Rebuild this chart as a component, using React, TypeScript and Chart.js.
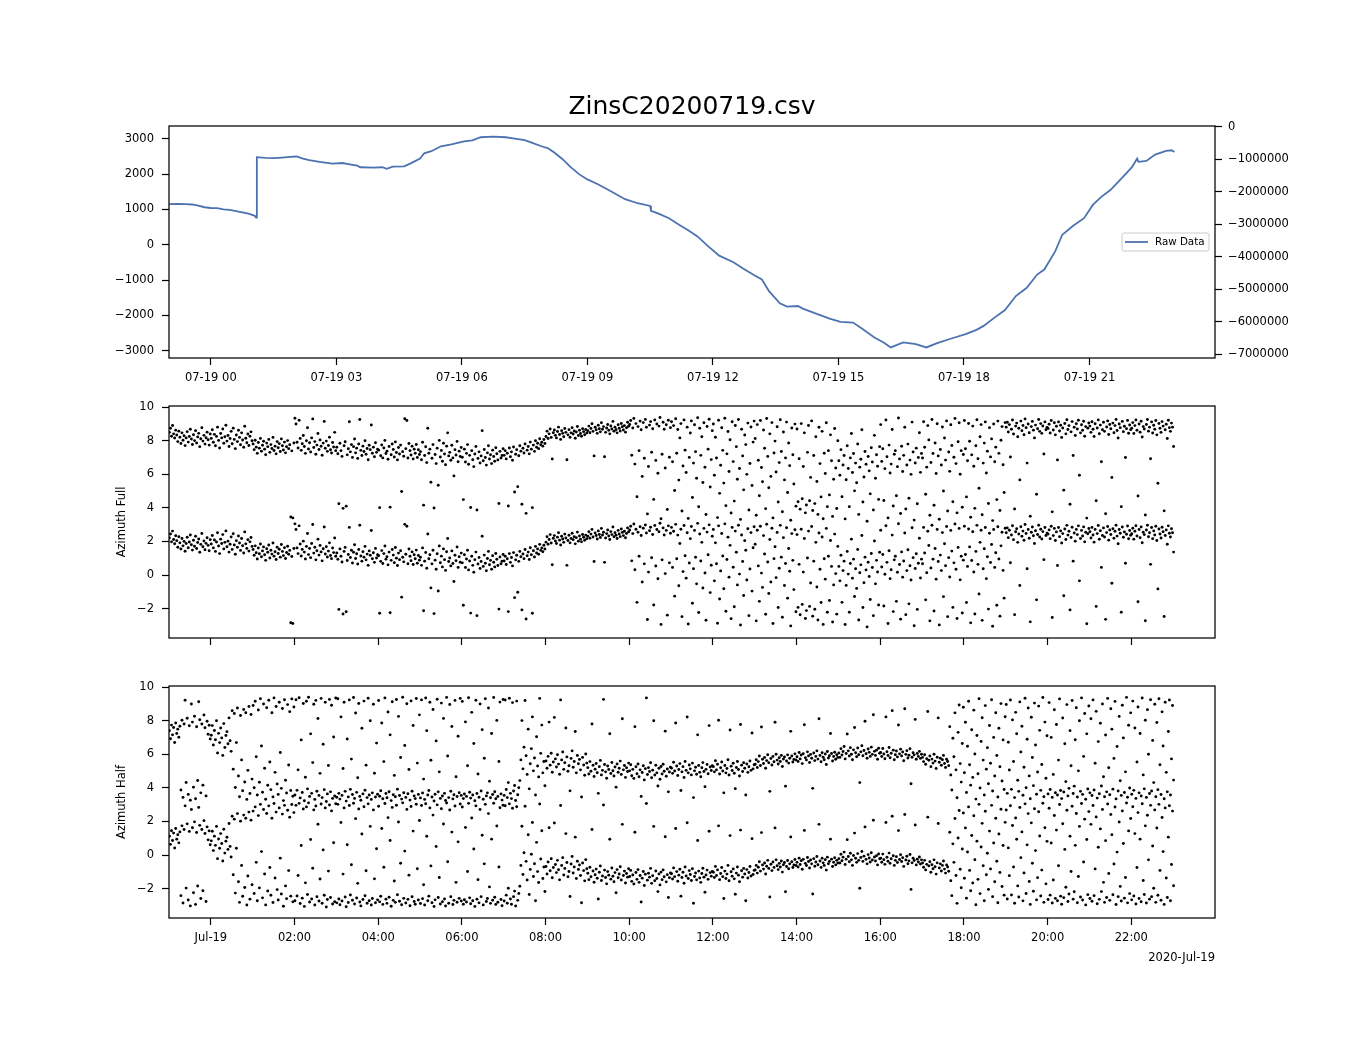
import React, { useEffect, useRef } from 'react';
import { Chart, registerables } from 'chart.js';

Chart.register(...registerables);

const FONT = "'DejaVu Sans', 'Liberation Sans', sans-serif";
const TITLE = 'ZinsC20200719.csv';
const OFFSET_LABEL = '2020-Jul-19';
const LEGEND_LABEL = 'Raw Data';
const LINE_COLOR = '#4c72b0';

// hours relative to 2020-07-19 00:00
const X_MIN = -1.0;
const X_MAX = 24.0;
const SAMPLE_START = -0.99;
const SAMPLE_END = 23.01;

const rawHours = [
  -0.99, -0.8, -0.6, -0.45, -0.3, -0.15, 0.0, 0.15, 0.3, 0.45, 0.6, 0.75, 0.9, 1.05, 1.08, 1.1,
  1.3, 1.5, 1.7, 1.9, 2.05, 2.2, 2.35, 2.6, 2.9, 3.15, 3.35, 3.5, 3.57, 3.9, 4.1, 4.2, 4.35,
  4.62, 4.8, 5.0, 5.1, 5.27, 5.5, 5.75, 6.05, 6.25, 6.45, 6.75, 7.05, 7.3, 7.5, 7.7, 7.9, 8.05,
  8.2, 8.4, 8.6, 8.8, 9.0, 9.25, 9.55, 9.9, 10.2, 10.5, 10.52, 10.7, 10.95, 11.2, 11.4, 11.63,
  11.89, 12.15, 12.49, 12.74, 13.0, 13.17, 13.34, 13.6, 13.77, 14.03, 14.15, 14.45, 14.79,
  15.05, 15.35, 15.56, 15.86, 16.08, 16.25, 16.55, 16.85, 17.1, 17.36, 17.7, 18.04, 18.3,
  18.47, 18.73, 18.98, 19.24, 19.5, 19.75, 19.92, 20.18, 20.35, 20.61, 20.87, 21.08, 21.29,
  21.5, 21.59, 21.8, 22.02, 22.14, 22.17, 22.36, 22.57, 22.83, 22.96, 23.03,
];
const rawValues = [
  1150, 1155, 1148, 1140, 1105, 1062, 1040, 1035, 1000, 985, 950, 915, 880, 820, 770, 2480,
  2460, 2455, 2470, 2490, 2500, 2440, 2395, 2345, 2300, 2315, 2270, 2240, 2195, 2185, 2195, 2150, 2215,
  2220, 2320, 2440, 2590, 2650, 2790, 2840, 2930, 2955, 3045, 3065, 3045, 3000, 2965, 2880, 2790, 2740,
  2620, 2430, 2200, 2000, 1850, 1715, 1520, 1290, 1175, 1100, 960, 880, 750, 560, 420, 235,
  -47, -310, -498, -685, -873, -986, -1315, -1662, -1756, -1737, -1812, -1944, -2094,
  -2188, -2207, -2376, -2629, -2770, -2911, -2770, -2817, -2911, -2789, -2657, -2535, -2413,
  -2300, -2066, -1850, -1455, -1221, -845, -704, -188, 282, 535, 751, 1127, 1362,
  1549, 1662, 1925, 2207, 2441, 2347, 2376, 2554, 2657, 2676, 2629,
];

// azimuth values in [-pi, pi]; each is drawn at v and v + 2*pi
const azimuthFull = [
  2.21, 2.45, 1.98, 2.62, 2.12, 1.87, 2.34, 2.05, 1.66, 2.28, 1.92, 1.55, 2.18, 1.74, 2.01, 1.42, 1.88, 2.25, 1.63, 1.97, 2.39, 1.81, 1.49, 2.07, 1.72, 2.31, 1.58, 1.94, 2.15, 1.36, 1.83, 2.48, 1.69, 2.03, 1.51, 1.89, 2.22, 1.77, 1.45, 2.11,
  1.85, 2.36, 1.62, 2.09, 1.41, 1.97, 2.52, 1.73, 1.28, 2.14, 1.88, 2.41, 1.56, 1.95, 2.63, 1.69, 2.02, 1.37, 1.84, 2.27, 1.53, 2.46, 1.79, 1.24, 2.05, 1.66, 2.33, 1.91, 1.47, 2.18, 1.75, 1.32, 2.57, 1.86, 1.59, 2.11, 1.43, 1.98, 2.24, 1.71,
  1.52, 1.18, 1.74, 1.33, 0.96, 1.61, 1.27, 1.85, 1.09, 1.44, 1.68, 1.21, 0.88, 1.57, 1.36, 1.79, 1.02, 1.48, 1.25, 1.91, 1.13, 1.39, 0.93, 1.66, 1.29, 1.54, 1.07, 1.82, 1.41, 1.16, 1.63, 0.99, 1.35, 1.72, 1.24, 1.47, -2.83, 1.11, -2.88, 1.58,
  3.05, 2.71, 1.62, 1.28, 2.93, 1.85, 1.14, 1.53, 2.02, 1.37, 0.96, 1.71, 2.48, 1.22, 1.59, 1.04, 1.88, 3.01, 1.31, 1.66, 0.91, 1.45, 2.14, 1.19, 1.76, 1.38, 0.85, 1.57, 2.86, 1.26, 1.69, 1.08, 1.43, 1.92, 1.17, 0.98, 1.61, 1.34, 2.21, 1.12,
  1.32, 0.94, -2.04, 1.56, 1.12, 0.78, -2.31, 1.41, 1.65, -2.18, 0.87, 1.23, 2.84, 1.05, 1.48, 0.72, 1.36, 1.81, 0.99, 1.27, 0.66, 1.52, 2.97, 1.14, 0.83, 1.39, 1.07, 1.71, 0.91, 1.25, 0.58, 1.44, 1.18, 2.65, 0.97, 1.33, 0.76, 1.59, 1.02, 1.21,
  1.15, -2.27, 0.82, 1.46, 0.69, 1.28, 1.73, 0.95, 1.09, 0.61, 1.37, -2.24, 0.88, 1.52, 1.19, 0.74, 1.64, 1.01, 0.57, 1.31, 0.92, 1.45, -1.31, 1.06, 0.79, 3.02, 1.24, 2.91, 0.68, 1.55, 1.12, 0.86, 1.38, 0.63, 1.21, 0.97, 1.49, 0.71, 1.17, 0.89,
  1.06, 0.58, 1.62, -2.12, 0.83, 1.35, 0.41, 2.45, 0.97, 1.21, -0.76, 0.67, 1.48, -2.29, 0.89, 0.35, 1.27, -0.94, 1.73, 0.74, 1.13, 0.49, 1.56, 0.92, 0.28, 1.39, 2.18, 0.81, 1.02, 0.55, 1.44, 0.69, -0.38, 1.18, 0.86, 1.67, 0.46, 1.09, 0.77, 1.31,
  0.73, -1.79, 1.21, 0.45, 0.96, 1.48, 0.31, 0.84, -2.26, 1.12, 0.58, 0.17, 0.92, 1.37, -2.41, 0.66, 1.05, 0.39, 0.81, 2.31, 0.52, 1.19, 0.71, 0.26, 0.99, 1.41, 0.62, 0.88, 0.35, 1.15, 0.77, 0.49, 1.29, 0.94, 0.57, -2.02, 1.08, 0.68, 0.83, 1.23,
  0.84, 1.12, 0.63, 0.97, -2.17, 1.28, 0.76, 1.05, 0.55, 1.34, -1.34, 0.91, 1.18, -1.02, 0.82, 1.41, 1.09, -2.07, 1.26, 0.98, 1.52, -2.61, 1.15, 1.37, 0.93, 1.63, 1.21, -2.27, 1.45, 1.08, 1.71, 1.32, 1.56, 1.24, 1.83, 1.47, 1.62, 1.39, 1.78, 1.55,
  1.96, 2.28, 1.84, 2.12, 2.41, 1.91, 0.62, 2.19, 2.35, 2.03, 1.88, 2.26, 2.52, 2.08, 1.79, 2.31, 2.15, 1.95, 2.44, 2.21, 0.58, 2.06, 2.37, 1.92, 2.18, 2.49, 2.11, 2.29, 1.86, 2.23, 2.56, 2.02, 2.33, 2.14, 1.98, 2.42, 2.25, 2.07, 2.38, 2.17,
  2.31, 2.58, 2.19, 2.44, 2.72, 2.27, 0.81, 2.51, 2.36, 2.15, 2.63, 2.42, 2.24, 2.78, 2.39, 2.55, 0.76, 2.21, 2.47, 2.68, 2.33, 2.12, 2.59, 2.41, 2.86, 2.28, 2.52, 2.37, 2.18, 2.66, 2.45, 2.29, 2.74, 2.54, 2.35, 2.61, 2.22, 2.48, 2.81, 2.57,
  2.68, 2.91, 0.85, 2.47, 3.04, 0.32, 2.73, -1.62, 2.55, 1.12, 2.88, 2.36, -0.41, 2.79, 0.67, 2.98, 2.51, -2.64, 0.18, 2.64, 2.85, 1.03, 2.42, -1.78, 2.95, 0.54, 2.71, -0.22, 2.58, 3.09, -2.93, 0.91, 2.81, 2.39, 0.09, 2.66, -2.38, 2.93, 0.73, 2.49,
  2.84, 0.46, 2.61, -1.25, 3.02, 0.97, 2.38, -0.63, 1.88, 2.73, -2.47, 0.21, 2.95, 1.15, -0.18, 2.52, -2.91, 0.72, 2.17, 2.89, -1.67, 0.38, 2.66, 1.06, -0.52, 3.08, -2.22, 2.45, 0.84, 1.95, -0.77, 2.78, 0.13, -2.68, 2.56, 1.21, 2.99, -1.04, 0.59, 2.31,
  2.71, -0.34, 1.92, 0.68, -2.86, 2.93, -1.42, 0.25, 2.48, 1.14, -0.81, 3.05, -2.15, 0.93, 2.26, -0.12, 1.77, -2.59, 2.84, 0.47, -1.88, 2.62, 1.36, -0.58, 2.97, 0.06, -2.97, 2.39, 0.81, -1.21, 2.05, 1.48, -0.29, 2.76, -2.41, 0.36, 2.53, -0.95, 1.63, 2.88,
  1.84, -2.72, 2.67, 0.55, -1.56, 2.91, 0.12, -0.73, 2.35, 1.26, -2.33, 3.03, 0.78, -1.09, 2.12, -0.41, 2.79, -2.88, 0.98, 1.69, -0.15, 2.54, -1.93, 0.41, 2.96, 1.07, -2.51, 2.23, -0.62, 0.69, 2.82, -1.37, 1.58, 0.23, -3.02, 2.47, 0.88, -0.86, 2.7, -2.18,
  2.41, -1.92, 0.64, -2.36, 2.73, -1.74, 0.18, 2.18, -2.58, -2.11, 1.02, 2.62, -1.86, -0.47, 2.89, -2.44, 0.83, -2.03, 1.95, -0.71, -2.67, 2.51, 0.35, -1.63, 2.27, -2.93, 0.97, -0.24, 2.78, -2.21, 1.12, -1.51, 2.06, 0.52, -2.79, -0.58, 2.44, 0.09, -2.32, 1.71,
  0.52, -0.34, 1.18, -1.62, 0.27, 0.83, -2.94, -0.61, 1.41, 0.06, -2.21, 0.69, 2.14, -0.18, 0.95, -1.27, 0.38, -0.79, 1.52, -2.67, 0.14, 0.61, 2.36, -1.93, -0.45, 1.07, 0.31, -3.08, 0.77, -0.08, -1.45, 1.29, 0.45, -2.41, 2.03, -0.52, 0.88, 0.19, -1.78, 1.36,
  2.67, 0.48, 1.23, -1.84, 0.05, 2.94, 0.76, -2.88, 1.45, -0.21, 0.32, 2.38, -2.17, 0.91, 1.12, -1.56, 0.17, 3.06, 0.63, -2.62, 1.38, -0.12, 0.84, 2.51, -2.35, 0.27, 1.51, -1.71, 0.56, -0.29, 2.82, 1.04, -3.01, 0.39, 1.27, -2.04, 0.71, 2.19, -0.17, 0.95,
  0.68, 2.84, 1.32, -1.47, 0.14, 2.61, 1.76, -2.72, 0.42, 2.97, 0.95, -2.13, 1.58, -0.24, 2.72, 0.81, -2.96, 1.19, 0.27, 2.53, -1.28, 1.87, 0.56, 2.89, -2.47, 1.04, -0.11, 2.66, 1.43, -1.92, 0.73, 3.04, 0.35, -2.58, 1.65, 2.78, -0.28, 1.12, -2.25, 0.89,
  2.91, 1.23, -1.63, 0.52, 2.74, 1.68, -2.84, 0.87, 2.58, 0.19, -2.31, 1.41, 2.96, 0.64, -1.12, 1.95, 2.67, -2.69, 0.38, 1.57, 2.83, -0.21, 1.09, -2.02, 2.49, 0.75, 1.82, -3.04, 2.71, 0.46, 1.33, -1.79, 2.88, 0.96, -2.44, 1.74, 2.55, 0.28, -1.37, 2.79,
  2.52, 2.81, 2.23, 2.67, 0.74, 2.39, 2.94, 2.11, -2.35, 2.58, 2.76, 1.95, 2.45, -0.62, 2.88, 2.31, 2.62, 2.07, 3.01, 2.48, 0.38, 2.71, 2.19, -2.78, 2.55, 2.86, 2.34, 1.88, 2.64, -1.47, 2.42, 2.97, 2.27, 2.73, 2.15, 2.59, 0.92, 2.83, 2.36, 2.5,
  2.44, 2.69, 2.17, 2.91, -2.52, 2.35, 2.78, 2.06, 2.57, 0.57, 2.83, 2.29, 2.63, 1.91, 2.47, -1.23, 2.74, 2.12, 2.96, 2.38, 2.61, -2.07, 2.24, 2.85, 0.83, 2.51, 2.02, 2.72, 2.41, 2.93, -0.34, 2.18, 2.66, 2.33, 2.87, 1.98, 2.55, -2.89, 2.46, 2.77,
  2.58, 2.21, 2.84, 2.39, 1.96, 2.72, -1.86, 2.47, 2.95, 2.13, 2.64, 0.46, 2.36, 2.81, 2.27, -2.63, 2.53, 2.89, 2.08, 2.68, 2.42, -0.48, 2.76, 2.19, 2.61, 2.97, 2.32, 1.87, 2.71, 2.49, -2.21, 2.86, 2.25, 2.57, 0.71, 2.43, 2.92, 2.16, 2.65, 2.37,
  2.46, 2.79, 2.14, 2.61, 2.94, 2.33, -1.58, 2.71, 2.22, 2.87, 1.93, 2.55, 2.41, -2.71, 2.68, 2.97, 2.28, 2.52, 0.64, 2.83, 2.17, 2.63, 2.39, 2.91, 2.06, -0.82, 2.74, 2.45, 2.21, 2.85, 2.58, -2.46, 2.36, 2.69, 1.84, 2.93, 2.49, 2.27, 2.76, 2.52,
  1.37,
];

const azimuthHalf = [
  1.12, 0.64, 1.45, 0.87, 1.31, 0.42, 1.58, 0.95, 1.21, 0.73, 1.38, -2.41, 1.74, -2.85, 1.52, 2.93, -1.96, 1.86, -2.67, 1.41, -3.02, 2.71, 1.63, -2.24, 1.98, -2.93, 1.35, -1.84, 2.84, 1.77, -2.58, 1.52, -2.12, 2.05, 1.29, -2.76, 1.68, 0.91, 1.44, 0.62,
  0.85, 1.42, 0.27, 1.13, 0.58, 1.71, -0.21, 0.96, 0.41, 1.28, 0.69, -0.35, 1.54, 0.12, 0.83, 1.06, 0.34, 1.88, 0.52, -0.11, 2.31, -1.17, 2.14, -2.26, 0.41, 2.47, -1.58, -2.81, 2.02, -0.62, -2.45, 2.38, -1.93, 2.19, -2.97, -1.24, 2.56, -2.62, 2.08, -1.76,
  2.62, -2.28, 2.87, -0.43, -2.71, 2.35, -1.95, 3.02, 0.21, -2.54, 2.71, -1.12, -2.96, 2.48, -2.13, 2.93, -0.74, -2.39, 2.19, -2.82, 3.07, -1.36, 2.56, -2.05, -2.67, 2.81, -0.18, -2.31, 2.44, -3.04, 2.96, -1.83, -2.59, 2.67, -0.92, 2.25, -2.44, 3.01, -2.78, 2.53,
  -2.71, 2.96, -2.43, -1.21, 3.08, -2.88, 0.57, -2.56, 2.74, -3.05, -1.65, 2.87, -2.34, 3.11, -2.79, 0.93, -2.61, -0.78, 2.69, -2.97, 2.92, -2.48, 1.84, -2.73, -1.42, 3.04, -2.86, 0.31, -2.39, 2.81, -3.09, -2.64, -0.95, 2.98, -2.52, 2.63, -2.91, 0.74, -2.77, 3.06,
  -2.84, 3.02, -2.61, -2.95, 1.94, -2.73, -1.13, 2.81, -2.49, -3.07, 0.62, -2.82, 2.95, -2.37, -0.57, -2.68, 3.09, -2.91, 2.17, -2.55, -1.68, 2.74, -2.79, -3.02, 1.26, -2.64, 2.88, -2.42, -0.93, -2.86, 3.05, -2.71, 1.71, -2.97, -2.58, 2.69, -1.41, -2.83, 0.38, -2.66,
  2.91, -2.78, -2.45, 1.58, -2.93, -0.72, 3.07, -2.62, -2.87, 2.23, -2.51, 0.87, -3.04, 2.84, -2.69, -1.54, -2.81, 2.97, -2.36, 1.97, -2.74, -0.48, -2.95, 3.11, -2.57, 0.24, -2.85, 2.72, -2.63, -1.19, -3.01, 2.89, -2.48, 1.43, -2.76, -2.92, 3.03, -0.81, -2.67, 2.06,
  -2.88, 2.95, -2.59, -1.76, -2.97, 3.06, 1.12, -2.71, -2.44, 2.81, -0.64, -2.83, 2.38, -3.06, -2.66, 0.51, 2.99, -2.52, -1.33, -2.91, 2.76, -2.77, 1.85, -2.61, -3.03, 3.1, -0.39, -2.86, 2.68, -2.48, 1.37, -2.94, -2.69, 2.92, -1.62, -2.8, 0.79, -2.57, 3.04, -2.73,
  2.86, -2.92, -2.65, 1.64, -2.79, -0.97, 3.08, -2.54, -2.89, 2.21, -2.71, 0.36, -3.05, 2.93, -2.62, -1.46, -2.84, 2.71, -2.47, 1.18, -2.96, -0.52, 3.02, -2.76, -2.58, 2.47, -1.89, -2.87, 0.95, -2.68, 3.09, -2.51, -2.93, 1.73, -2.8, -0.71, 2.82, -2.64, -3.01, 2.97,
  -2.73, 2.94, -2.38, -2.86, -1.97, 3.05, -2.61, -2.92, 2.79, -2.47, -2.14, -3.03, 2.88, -2.69, -2.28, -1.85, -0.62, 1.72, -1.15, 0.14, 2.91, -0.37, -1.48, 1.21, -2.34, -0.85, 0.05, 1.94, -1.27, -0.51, -2.71, 0.76, -0.98, -1.63, 3.04, -0.23, 1.45, -1.39, -0.71, -2.16,
  -0.68, -1.12, -0.41, 1.63, -0.93, -0.22, -1.35, -0.74, 1.91, -0.56, -1.04, -0.31, -0.87, -1.47, 2.95, -0.62, -0.15, -1.18, -0.79, 1.28, -0.44, -1.29, -0.97, -2.46, -0.53, -0.08, -1.06, -0.71, 1.07, -1.39, -0.36, -0.85, -0.59, -1.21, -2.83, -0.47, -0.92, -1.53, -0.27, -0.81,
  -1.08, -1.46, -0.72, -1.29, 1.52, -0.94, -1.61, -1.17, -0.83, -1.38, -2.61, -1.02, -0.65, -1.51, -1.24, 2.98, -0.89, -1.33, -1.71, -0.98, -1.19, 0.94, -1.43, -0.77, -1.26, -1.58, -1.04, -2.24, -0.86, -1.35, -1.12, -0.69, -1.48, 1.83, -1.21, -0.95, -1.66, -1.09, -1.31, -0.81,
  -1.27, -0.91, -1.56, -1.18, -1.72, 1.36, -1.03, -1.44, -0.86, -1.62, -1.21, -2.79, -1.37, -0.97, -1.81, -1.14, 3.07, -1.49, -1.08, -1.31, -0.79, -1.68, -1.23, 1.71, -1.52, -0.94, -1.39, -2.17, -1.12, -1.77, -1.01, -1.46, -0.88, -1.29, 1.09, -1.59, -1.16, -2.52, -1.34, -1.06,
  -1.11, -1.42, -0.76, -1.28, 1.58, -0.98, -1.55, -1.19, -0.84, -2.44, -1.33, -1.02, -1.67, -0.71, -1.24, 1.93, -1.39, -0.92, -1.15, -1.51, -0.81, -2.86, -1.27, -1.06, -1.47, 0.87, -0.95, -1.36, -1.62, -1.09, -0.78, -1.31, -2.21, -1.18, -0.89, -1.44, 1.42, -1.04, -1.25, -0.97,
  -1.02, -1.33, -0.67, -1.21, -0.88, 1.74, -1.46, -1.09, -0.74, -1.28, -2.58, -0.95, -1.39, -1.13, -0.61, -1.52, 1.16, -0.99, -1.25, -0.82, -1.41, -2.33, -1.07, -0.71, -1.19, -1.58, 1.49, -0.93, -1.31, -0.79, -1.12, -2.71, -0.86, -1.36, -1.03, -0.68, -1.24, 0.98, -1.15, -0.91,
  -0.88, -0.61, -1.07, -0.72, -0.39, -0.95, 1.34, -0.58, -0.83, -0.47, -1.12, -0.66, -0.31, -0.79, -2.49, -0.54, -0.92, -0.41, -0.73, 1.62, -0.28, -0.63, -0.86, -0.49, -0.71, -0.35, -1.01, -0.57, -0.44, -2.18, -0.68, -0.32, -0.81, -0.52, 1.08, -0.39, -0.74, -0.59, -0.26, -0.62,
  -0.43, -0.71, -0.18, -0.56, -0.33, -0.84, -0.25, 1.47, -0.49, -0.62, -0.14, -0.38, -0.77, -0.29, -0.52, -2.31, -0.21, -0.66, -0.41, -0.08, -0.57, 1.83, -0.35, -0.73, -0.19, -0.46, -0.61, -0.27, -0.89, -0.12, -0.51, -0.37, 0.95, -0.24, -0.68, -0.42, -0.16, -0.58, -0.31, -0.47,
  -0.21, -0.47, 0.05, -0.33, -0.12, 0.18, -0.56, -0.24, 0.92, -0.08, -0.39, 0.11, -0.28, -0.61, -0.02, 1.31, -0.19, -0.43, 0.09, -0.31, -1.97, -0.14, 0.22, -0.37, -0.06, 1.68, -0.25, -0.52, 0.03, -0.17, -0.41, 0.14, -0.29, 2.07, -0.11, -0.35, -0.04, -0.58, 0.07, -0.22,
  -0.18, -0.42, 0.06, -0.27, -0.55, 1.94, -0.13, -0.36, 0.12, -0.49, -0.22, 2.31, -0.04, -0.61, -0.31, -0.09, -0.44, 1.46, -0.26, 0.02, -0.38, -0.15, -0.67, 2.42, -0.29, -0.07, -0.51, -0.34, 0.04, -2.04, -0.46, -0.19, -0.32, 1.79, -0.58, -0.24, -0.41, -0.11, -0.53, -0.28,
  -0.47, -0.72, -0.31, -0.88, -0.55, 2.26, -0.64, -0.39, -1.02, -0.57, -0.81, -0.28, -0.69, -1.13, -0.46, 1.88, -0.76, -0.52, -0.94, -0.61, -0.35, -0.83, -1.07, -0.58, -0.71, -0.96, 1.36, -1.52, -2.41, 0.67, -0.43, 2.18, -1.21, -2.87, 1.02, 2.65, -0.84, -1.94, 0.36, 2.51,
  -1.38, 1.62, -2.56, 0.19, 2.87, -0.91, -2.12, 1.17, -1.66, 2.34, -0.27, -2.95, 0.83, -1.44, 3.02, -2.29, 0.48, 1.89, -0.63, -2.71, 2.61, -1.17, 0.11, -2.04, 1.43, -0.82, 2.96, -2.47, 0.72, -1.58, 2.19, -0.36, -2.83, 1.26, -1.03, 2.73, -1.87, 0.57, -2.38, 1.95,
  2.68, -2.61, 0.43, -1.22, 2.94, -2.37, 1.76, -0.71, -2.86, 2.21, 0.94, -1.83, -2.49, 2.83, -0.15, 1.38, -2.72, -1.06, 3.05, -2.28, 0.61, 2.47, -1.57, -2.93, 1.92, -0.48, -2.15, 2.76, 0.27, -2.66, -1.34, 2.58, 1.14, -2.43, -0.89, 3.09, -2.81, 1.63, -1.71, 0.82,
  -2.64, 2.79, -2.38, 0.72, -2.85, -1.48, 2.36, -2.57, 1.49, -2.71, -0.63, 3.01, -2.44, -2.92, 1.87, -2.53, 0.34, -1.91, 2.67, -2.76, -2.31, 1.12, -0.97, 2.91, -2.62, -2.18, 0.58, 2.48, -2.83, -1.27, 1.71, -2.49, 3.07, -2.67, -0.41, 2.14, -2.96, 0.93, -2.35, 2.59,
  -2.58, 1.83, -2.74, 2.95, -2.41, -0.82, 2.27, -2.89, 0.47, -2.63, 1.56, -2.17, 2.71, -1.62, -2.81, 0.86, -2.52, 3.04, -1.09, -2.69, 2.42, 1.21, -2.36, -0.53, 2.86, -2.94, 0.18, -2.47, 1.97, -1.86, -2.73, 2.63, 0.69, -2.56, -1.33, 3.1, -2.84, 1.44, -2.29, 2.18,
  -2.66, 2.88, -2.43, 1.28, -2.91, -0.74, 2.53, -2.58, 0.95, -2.77, 3.06, -1.51, -2.34, 1.74, -2.85, 2.37, -0.28, -2.62, 2.96, -2.47, 0.54, -1.97, 2.69, -2.81, 1.61, -2.39, 3.02, -0.91, -2.68, 2.24, 0.21, -2.93, 2.81, -1.36, -2.52, 1.07, 2.94, -2.71, -0.56, 2.62,
  -1.82,
];

const topTickHours = [0, 3, 6, 9, 12, 15, 18, 21];
const topTickLabels = ['07-19 00', '07-19 03', '07-19 06', '07-19 09', '07-19 12', '07-19 15', '07-19 18', '07-19 21'];
const hourTicks = [0, 2, 4, 6, 8, 10, 12, 14, 16, 18, 20, 22];
const hourTickLabels = ['Jul-19', '02:00', '04:00', '06:00', '08:00', '10:00', '12:00', '14:00', '16:00', '18:00', '20:00', '22:00'];
const rawLeftTicks = [-3000, -2000, -1000, 0, 1000, 2000, 3000];
const rawRightTicks = [0, -1000000, -2000000, -3000000, -4000000, -5000000, -6000000, -7000000];
const azimuthTicks = [-2, 0, 2, 4, 6, 8, 10];

const W = 1350;
const H = 1050;
const PLOT_LEFT = 169;
const PLOT_RIGHT = 1215;
const AXIS_W = 100;
const AXIS_H = 40;
const TICK_FONT = { family: FONT, size: 11.5 };

function fmtNum(v: number): string {
  if (v === 0) return '0';
  return (v < 0 ? '\u2212' : '') + String(Math.abs(v));
}

function setTicks(values: number[]) {
  return (scale: any) => {
    scale.ticks = values.map((value) => ({ value }));
  };
}

function xAxis(values: number[], labels: string[] | null) {
  return {
    type: 'linear',
    position: 'bottom',
    min: X_MIN,
    max: X_MAX,
    afterBuildTicks: setTicks(values),
    afterFit: (s: any) => {
      s.height = AXIS_H;
    },
    grid: { display: true, drawOnChartArea: false, drawTicks: true, tickLength: 7, tickColor: '#000', tickWidth: 1.2 },
    border: { display: false },
    ticks: {
      autoSkip: false,
      maxRotation: 0,
      minRotation: 0,
      padding: 6,
      color: '#000',
      font: TICK_FONT,
      callback: (v: number) => {
        if (!labels) return '';
        const i = values.indexOf(v);
        return i >= 0 ? labels[i] : '';
      },
    },
  };
}

function yAxis(values: number[], min: number, max: number, position: 'left' | 'right', title?: string) {
  return {
    type: 'linear',
    position,
    min,
    max,
    display: true,
    afterBuildTicks: setTicks(values),
    afterFit: (s: any) => {
      s.width = AXIS_W;
    },
    grid: { display: true, drawOnChartArea: false, drawTicks: true, tickLength: 7, tickColor: '#000', tickWidth: 1.2 },
    border: { display: false },
    ticks: {
      autoSkip: false,
      padding: position === 'left' ? 8 : 6,
      color: '#000',
      font: TICK_FONT,
      callback: (v: number) => fmtNum(v),
    },
    title: title
      ? { display: true, text: title, color: '#000', font: TICK_FONT, padding: { top: 46, bottom: 0 } }
      : { display: false },
  };
}

const framePlugin = {
  id: 'frame',
  afterDraw(chart: any) {
    const { ctx, chartArea: a } = chart;
    ctx.save();
    ctx.strokeStyle = '#000';
    ctx.lineWidth = 1.25;
    ctx.strokeRect(a.left, a.top, a.right - a.left, a.bottom - a.top);
    ctx.restore();
  },
};

const titlePlugin = {
  id: 'figTitle',
  afterDraw(chart: any) {
    const { ctx, chartArea: a } = chart;
    ctx.save();
    ctx.fillStyle = '#000';
    ctx.font = `25px ${FONT}`;
    ctx.textAlign = 'center';
    ctx.textBaseline = 'alphabetic';
    ctx.fillText(TITLE, (a.left + a.right) / 2, 114);
    ctx.restore();
  },
};

const legendPlugin = {
  id: 'rawLegend',
  afterDraw(chart: any) {
    const { ctx, chartArea: a } = chart;
    const w = 87;
    const h = 18;
    const x = a.right - 6 - w;
    const y = (a.top + a.bottom) / 2 - h / 2;
    ctx.save();
    ctx.beginPath();
    if (ctx.roundRect) ctx.roundRect(x, y, w, h, 2);
    else ctx.rect(x, y, w, h);
    ctx.fillStyle = 'rgba(255,255,255,0.8)';
    ctx.fill();
    ctx.strokeStyle = '#cccccc';
    ctx.lineWidth = 1;
    ctx.stroke();
    ctx.beginPath();
    ctx.moveTo(x + 3, y + h / 2);
    ctx.lineTo(x + 26, y + h / 2);
    ctx.strokeStyle = LINE_COLOR;
    ctx.lineWidth = 1.8;
    ctx.stroke();
    ctx.fillStyle = '#000';
    ctx.font = `10.3px ${FONT}`;
    ctx.textAlign = 'left';
    ctx.textBaseline = 'middle';
    ctx.fillText(LEGEND_LABEL, x + 33, y + h / 2 + 0.5);
    ctx.restore();
  },
};

const offsetPlugin = {
  id: 'offsetLabel',
  afterDraw(chart: any) {
    const { ctx, chartArea: a } = chart;
    ctx.save();
    ctx.fillStyle = '#000';
    ctx.font = `11.5px ${FONT}`;
    ctx.textAlign = 'right';
    ctx.textBaseline = 'alphabetic';
    ctx.fillText(OFFSET_LABEL, a.right, 961);
    ctx.restore();
  },
};

function sampleTimes(n: number): number[] {
  const step = (SAMPLE_END - SAMPLE_START) / (n - 1);
  const out: number[] = [];
  for (let i = 0; i < n; i++) out.push(SAMPLE_START + i * step);
  return out;
}

function wrapPoints(values: number[]) {
  const t = sampleTimes(values.length);
  const base = values.map((v, i) => ({ x: t[i], y: v }));
  const shifted = values.map((v, i) => ({ x: t[i], y: v + 2 * Math.PI }));
  return base.concat(shifted);
}

function padding(top: number, bottom: number, hasRightAxis: boolean) {
  return {
    left: PLOT_LEFT - AXIS_W,
    right: W - PLOT_RIGHT - (hasRightAxis ? AXIS_W : 0),
    top,
    bottom: H - bottom - AXIS_H,
  };
}

const baseOptions = {
  responsive: false,
  maintainAspectRatio: false,
  animation: false,
  events: [],
  plugins: { legend: { display: false }, tooltip: { enabled: false }, title: { display: false } },
};

export default function App() {
  const c1 = useRef<HTMLCanvasElement>(null);
  const c2 = useRef<HTMLCanvasElement>(null);
  const c3 = useRef<HTMLCanvasElement>(null);

  useEffect(() => {
    Chart.defaults.font.family = FONT;
    const charts: Chart[] = [];

    charts.push(
      new Chart(c1.current as HTMLCanvasElement, {
        type: 'line',
        data: {
          datasets: [
            {
              label: LEGEND_LABEL,
              data: rawHours.map((h, i) => ({ x: h, y: rawValues[i] })),
              borderColor: LINE_COLOR,
              borderWidth: 1.8,
              pointRadius: 0,
              tension: 0,
              fill: false,
              yAxisID: 'y',
            },
          ],
        },
        options: {
          ...baseOptions,
          layout: { padding: padding(126, 358, true) },
          scales: {
            x: xAxis(topTickHours, topTickLabels),
            y: yAxis(rawLeftTicks, -3210, 3364, 'left'),
            y1: yAxis(rawRightTicks, -7120000, 30000, 'right'),
          },
        } as any,
        plugins: [framePlugin, titlePlugin, legendPlugin],
      })
    );

    const scatterSet = (vals: number[]) => ({
      data: wrapPoints(vals),
      showLine: false,
      pointRadius: 1.45,
      pointBorderWidth: 0,
      pointBackgroundColor: '#000',
      pointBorderColor: '#000',
    });

    charts.push(
      new Chart(c2.current as HTMLCanvasElement, {
        type: 'scatter',
        data: { datasets: [scatterSet(azimuthFull)] },
        options: {
          ...baseOptions,
          layout: { padding: padding(406, 638, false) },
          scales: {
            x: xAxis(hourTicks, null),
            y: yAxis(azimuthTicks, -3.74, 10.06, 'left', 'Azimuth Full'),
          },
        } as any,
        plugins: [framePlugin],
      })
    );

    charts.push(
      new Chart(c3.current as HTMLCanvasElement, {
        type: 'scatter',
        data: { datasets: [scatterSet(azimuthHalf)] },
        options: {
          ...baseOptions,
          layout: { padding: padding(686, 918, false) },
          scales: {
            x: xAxis(hourTicks, hourTickLabels),
            y: yAxis(azimuthTicks, -3.74, 10.06, 'left', 'Azimuth Half'),
          },
        } as any,
        plugins: [framePlugin, offsetPlugin],
      })
    );

    return () => {
      charts.forEach((c) => c.destroy());
    };
  }, []);

  const canvasStyle: React.CSSProperties = { position: 'absolute', left: 0, top: 0, width: W, height: H };
  return (
    <div style={{ position: 'absolute', left: 0, top: 0, width: W, height: H, background: '#fff' }}>
      <canvas ref={c1} width={W} height={H} style={canvasStyle} />
      <canvas ref={c2} width={W} height={H} style={canvasStyle} />
      <canvas ref={c3} width={W} height={H} style={canvasStyle} />
    </div>
  );
}
